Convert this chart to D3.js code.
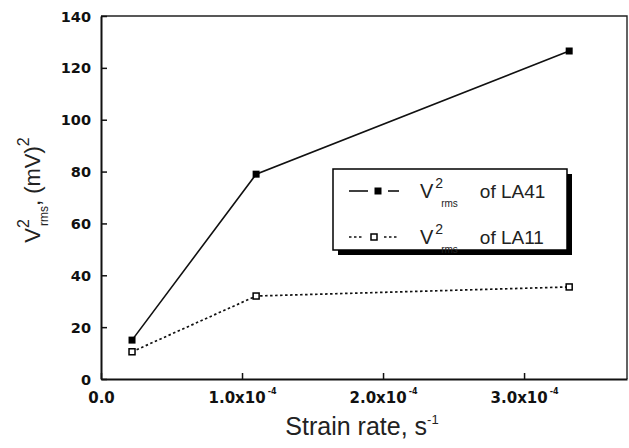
<!DOCTYPE html>
<html>
<head>
<meta charset="utf-8">
<script src="https://cdn.jsdelivr.net/npm/d3@7"></script>
<style>
  body { margin: 0; background: #fff; }
  svg { display: block; }
</style>
</head>
<body>
<svg id="chart" width="629" height="448"></svg>
<script>
// data
const strainRate = [0.22e-4, 1.1e-4, 3.32e-4];
const la41 = [15, 79, 126.5];
const la11 = [10.5, 32, 35.5];
const xTicks = [0, 1e-4, 2e-4, 3e-4];
const xTickMant = ["0.0", "1.0x10", "2.0x10", "3.0x10"];
const yTicks = [0, 20, 40, 60, 80, 100, 120, 140];
const seriesNames = ["LA41", "LA11"];

const svg = d3.select("#chart");
const plotL = 101, plotR = 627, plotT = 16, plotB = 379;

const x = d3.scaleLinear().domain([0, 3.73e-4]).range([plotL, plotR]);
const y = d3.scaleLinear().domain([0, 140]).range([plotB, plotT]);

// frame top + right, thin
svg.append("path")
  .attr("d", `M${plotL},${plotT}H${plotR}V${plotB}`)
  .attr("fill", "none").attr("stroke", "#222").attr("stroke-width", 1.4);

// y axis
const yAxis = svg.append("g")
  .attr("transform", `translate(${plotL},0)`)
  .call(d3.axisLeft(y).tickValues(yTicks).tickSizeInner(-6).tickSizeOuter(0).tickPadding(10));
yAxis.select(".domain").attr("stroke", "#111").attr("stroke-width", 2);
yAxis.selectAll(".tick line").attr("stroke", "#111").attr("stroke-width", 1.5);
yAxis.selectAll(".tick text")
  .attr("font-family", "DejaVu Sans").attr("font-weight", "bold").attr("font-size", 14.5)
  .attr("fill", "#111").attr("dy", "0.35em");

// x axis
const xAxis = svg.append("g")
  .attr("transform", `translate(0,${plotB})`)
  .call(d3.axisBottom(x).tickValues(xTicks).tickSizeInner(-6).tickSizeOuter(0).tickFormat(() => ""));
xAxis.select(".domain").attr("stroke", "#111").attr("stroke-width", 2);
xAxis.selectAll(".tick line").attr("stroke", "#111").attr("stroke-width", 1.5);
xAxis.selectAll(".tick text").remove();
xAxis.selectAll(".tick").each(function(d, i) {
  const t = d3.select(this).append("text")
    .attr("y", 24).attr("text-anchor", "middle")
    .attr("font-family", "DejaVu Sans").attr("font-weight", "bold").attr("font-size", 15)
    .attr("fill", "#111");
  t.append("tspan").text(xTickMant[i]);
  if (i > 0) t.append("tspan").attr("dx", 2).attr("dy", -9).attr("font-size", 8).text("-4");
});

// y label
const yl = svg.append("text")
  .attr("transform", "translate(40,190) rotate(-90)")
  .attr("text-anchor", "middle")
  .attr("font-family", "Liberation Sans").attr("font-size", 22).attr("fill", "#222");
yl.append("tspan").text("V");
yl.append("tspan").attr("dy", -11).attr("font-size", 16).text("2");
yl.append("tspan").attr("dx", -7).attr("dy", 19).attr("font-size", 12).text("rms");
yl.append("tspan").attr("dy", -8).text(", (mV)");
yl.append("tspan").attr("dy", -11).attr("font-size", 16).text("2");

// x label
const xl = svg.append("text")
  .attr("x", 362).attr("y", 435).attr("text-anchor", "middle")
  .attr("font-family", "Liberation Sans").attr("font-size", 25).attr("fill", "#222");
xl.append("tspan").text("Strain rate, s");
xl.append("tspan").attr("dy", -11).attr("font-size", 13).text("-1");

// series
const line = d3.line().x(d => x(d[0])).y(d => y(d[1]));
const pts41 = strainRate.map((s, i) => [s, la41[i]]);
const pts11 = strainRate.map((s, i) => [s, la11[i]]);

svg.append("path").datum(pts41).attr("d", line)
  .attr("fill", "none").attr("stroke", "#111").attr("stroke-width", 1.6);
svg.append("path").datum(pts11).attr("d", line)
  .attr("fill", "none").attr("stroke", "#111").attr("stroke-width", 1.7)
  .attr("stroke-dasharray", "2.5,2.5");

svg.selectAll(".m41").data(pts41).enter().append("rect")
  .attr("x", d => x(d[0]) - 3.5).attr("y", d => y(d[1]) - 3.5)
  .attr("width", 7).attr("height", 7).attr("fill", "#000");
svg.selectAll(".m11").data(pts11).enter().append("rect")
  .attr("x", d => x(d[0]) - 3).attr("y", d => y(d[1]) - 3)
  .attr("width", 6).attr("height", 6).attr("fill", "#fff")
  .attr("stroke", "#000").attr("stroke-width", 1.5);

// legend with drop shadow
const lg = svg.append("g").attr("transform", "translate(333,169)");
lg.append("rect").attr("x", 5).attr("y", 5).attr("width", 234).attr("height", 81).attr("fill", "#000");
lg.append("rect").attr("width", 234).attr("height", 81)
  .attr("fill", "#fff").attr("stroke", "#000").attr("stroke-width", 1.5);

seriesNames.forEach((name, i) => {
  const ry = 22 + i * 46;
  const dash = i === 0 ? null : "2.5,2.5";
  const mx = i === 0 ? 45 : 41;
  [[16, mx - 10], [mx + 10, 66]].forEach(seg => {
    lg.append("line").attr("x1", seg[0]).attr("x2", seg[1]).attr("y1", ry).attr("y2", ry)
      .attr("stroke", "#111").attr("stroke-width", 1.6)
      .attr("stroke-dasharray", dash);
  });
  if (i === 0) {
    lg.append("rect").attr("x", mx - 3.5).attr("y", ry - 3.5).attr("width", 7).attr("height", 7).attr("fill", "#000");
  } else {
    lg.append("rect").attr("x", mx - 3).attr("y", ry - 3).attr("width", 6).attr("height", 6)
      .attr("fill", "#fff").attr("stroke", "#000").attr("stroke-width", 1.5);
  }
  const t = lg.append("text").attr("x", 87).attr("y", ry + 7)
    .attr("font-family", "Liberation Sans").attr("font-size", 20).attr("fill", "#222");
  t.append("tspan").text("V");
  t.append("tspan").attr("dx", 2).attr("dy", -10).attr("font-size", 14).text("2");
  t.append("tspan").attr("dx", -2).attr("dy", 19).attr("font-size", 10).text("rms");
  t.append("tspan").attr("dx", 22).attr("dy", -9).attr("font-size", 19).text("of " + name);
});
</script>
</body>
</html>
